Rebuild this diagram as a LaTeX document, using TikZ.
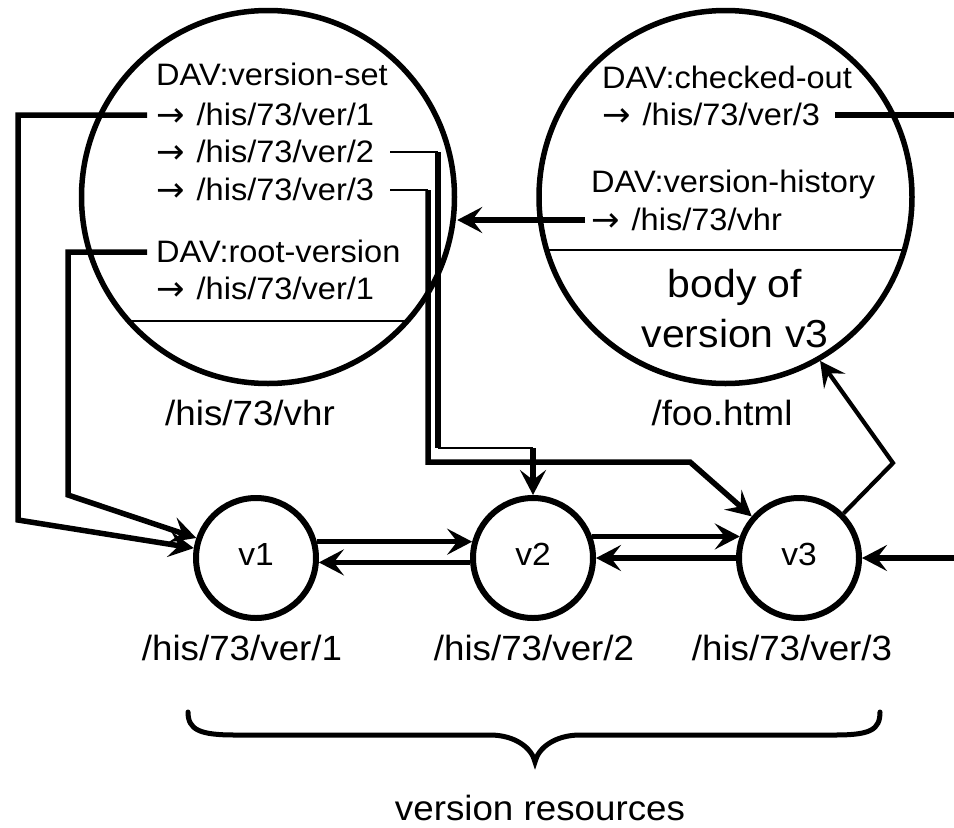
\documentclass[tikz,border=0pt]{standalone}
\usepackage{fontspec}
\setmainfont{Liberation Sans}[FakeStretch=1.05]
\newfontfamily\arrowfont{DejaVu Sans}
\usetikzlibrary{arrows.meta,calc}
\newcommand{\myarr}{\raisebox{-1pt}{\arrowfont\fontsize{34}{34}\selectfont →}\hspace{12pt}}
\tikzset{
  thickln/.style={line width=5.5pt},
  thinln/.style={line width=1.8pt},
  midln/.style={line width=4.2pt},
  arr/.style={-{Stealth[length=25pt,width=26pt,inset=10pt]}},
  bigcirc/.style={circle,draw,line width=5.5pt,minimum size=373pt,inner sep=0pt},
  vcirc/.style={circle,draw,line width=6pt,minimum size=120pt,inner sep=0pt,
    font=\fontsize{32}{38}\selectfont,text height=23pt,text depth=9pt},
  smalltxt/.style={inner sep=0pt,anchor=base west,font=\fontsize{31}{37}\selectfont},
  bigtxt/.style={inner sep=0pt,anchor=base,font=\fontsize{35}{42}\selectfont},
  bodytxt/.style={inner sep=0pt,anchor=base,font=\fontsize{39}{47}\selectfont},
}
\begin{document}
\begin{tikzpicture}[x=1pt,y=-1pt]
\useasboundingbox (0,0) rectangle (954,828);

% big circles
\node[bigcirc] (L) at (268,197) {};
\node[bigcirc] (R) at (725.5,197) {};
\draw[line width=2pt] (L.center) ++(-140,124) -- ++(280,0);
\draw[line width=2pt] (R.center) ++(-180,53) -- ++(360,0);

% texts in left circle
\node[smalltxt] (lt1) at (156,85) {DAV:version-set};
\node[smalltxt] (lt2) at (156,125) {\myarr/his/73/ver/1};
\node[smalltxt] (lt3) at (156,162) {\myarr/his/73/ver/2};
\node[smalltxt] (lt4) at (156,200) {\myarr/his/73/ver/3};
\node[smalltxt] (lt5) at (156,262) {DAV:root-version};
\node[smalltxt] (lt6) at (156,299) {\myarr/his/73/ver/1};

% texts in right circle
\node[smalltxt] (rt1) at (602,88) {DAV:checked-out};
\node[smalltxt] (rt2) at (602,125) {\myarr/his/73/ver/3};
\node[smalltxt] (rt3) at (591,192) {DAV:version-history};
\node[smalltxt] (rt4) at (591,230) {\myarr/his/73/vhr};
\node[bodytxt] (rb1) at (735,297) {body of};
\node[bodytxt] (rb2) at (735,347) {version v3};

% labels
\node[bigtxt] (lvhr) at (250,425) {/his/73/vhr};
\node[bigtxt] (lfoo) at (722,425) {/foo.html};

% version circles
\node[vcirc] (v1) at (256,558) {v1};
\node[vcirc] (v2) at (533,558) {v2};
\node[vcirc] (v3) at (799,558) {v3};
\node[bigtxt] (l1) at (242,660) {/his/73/ver/1};
\node[bigtxt] (l2) at (534,660) {/his/73/ver/2};
\node[bigtxt] (l3) at (792,660) {/his/73/ver/3};

% brace
\draw[line width=5pt,line cap=round]
  (188,712) .. controls (188,730) and (200,735) .. (235,735) -- (490,735)
  .. controls (515,735) and (532,748) .. (535,762)
  .. controls (538,748) and (555,735) .. (580,735) -- (835,735)
  .. controls (870,735) and (880,730) .. (880,712);
\node[bigtxt] (lres) at (540,820) {version resources};

% route coordinates
\coordinate (k1) at (18,520);
\coordinate (k5) at (68,495);
\coordinate (k2a) at (438,152);
\coordinate (k2b) at (438,448);
\coordinate (k2c) at (533,448);
\coordinate (k3a) at (428,190);
\coordinate (k3b) at (428,462);
\coordinate (k3c) at (690,462);
\coordinate (k6) at (893,463);
\coordinate (e1) at (954,115);
\coordinate (e2) at (954,558);

% connectors from left circle
\draw[thickln,arr] ([shift={(-9pt,10pt)}]lt2.base west) -| (k1) -- (v1);
\draw[thickln,arr] ([shift={(-9pt,10pt)}]lt5.base west) -| (k5) -- (v1);
\draw[thinln] ([shift={(16pt,10pt)}]lt3.base east) -- (k2a);
\draw[thickln] (k2a) -- (k2b);
\draw[thinln] (k2b) -- (k2c);
\draw[thickln,arr] (k2c) -- (v2);
\draw[thinln] ([shift={(16pt,10pt)}]lt4.base east) -- (k3a);
\draw[thickln,arr] (k3a) -- (k3b) -- (k3c) -- (v3);

% connectors from right circle
\draw[thickln,arr] ([shift={(-6pt,10pt)}]rt4.base west) -- (L.east |- 0,220);
\draw[thickln] ([shift={(15pt,10pt)}]rt2.base east) -- (e1);
\draw[thickln,arr] (e2) -- (v3);
\draw[midln,arr] (v3.45) -- (k6) -- (R.-60);

% between versions
\draw[thickln,arr] (v1.15) -- (v2.165);
\draw[thickln,arr] (v2.184) -- (v1.-4);
\draw[thickln,arr] (v2.20) -- (v3.160);
\draw[thickln,arr] (v3.180) -- (v2.0);
\end{tikzpicture}
\end{document}
